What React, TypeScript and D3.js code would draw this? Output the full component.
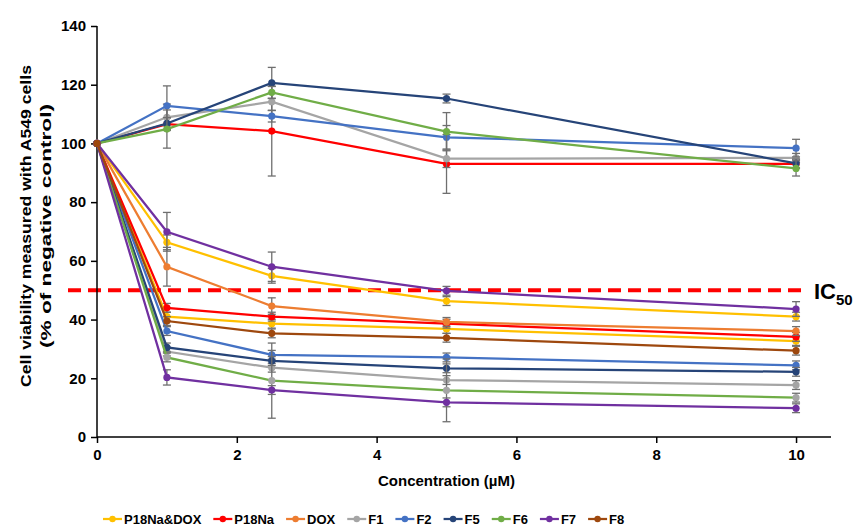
import React, { useEffect, useRef } from "react";
import * as d3 from "d3";

// concentration points (µM)
const concentrations = [0, 1, 2.5, 5, 10];
const xTicks = [0, 2, 4, 6, 8, 10];
const yTicks = [0, 20, 40, 60, 80, 100, 120, 140];

const legendNames = ["P18Na&DOX", "P18Na", "DOX", "F1", "F2", "F5", "F6", "F7", "F8"];
const legendColors = ["#FFC000", "#FF0000", "#ED7D31", "#A5A5A5", "#4472C4", "#264478", "#70AD47", "#7030A0", "#9E480E"];

// upper group (stays near 100 %)
const p18naHigh = [100, 106.6, 104.2, 93, 93];
const p18naHighErr = [0, 2, 15.3, 10, 1.5];
const f1High = [100, 108.9, 114.2, 94.8, 95.1];
const f1HighErr = [0, 4.5, 3, 3, 1.5];
const f2High = [100, 112.8, 109.3, 102.1, 98.4];
const f2HighErr = [0, 6.8, 2, 4, 3];
const f5High = [100, 106.8, 120.6, 115.3, 93.2];
const f5HighErr = [0, 2, 5.3, 1.5, 1.5];
const f6High = [100, 104.9, 117.4, 104, 91.5];
const f6HighErr = [0, 6.5, 2, 6.5, 2.6];

// lower group (cytotoxic)
const p18naDoxA = [100, 66.3, 54.9, 46.3, 41];
const p18naDoxAErr = [0, 2.5, 2.5, 1.5, 1.5];
const p18naDoxB = [100, 41, 38.6, 36.8, 32.7];
const p18naDoxBErr = [0, 1.5, 1.5, 1.5, 1.5];
const p18naLow = [100, 44, 41, 38.6, 34.1];
const p18naLowErr = [0, 1.5, 1.5, 1.5, 1.5];
const doxLow = [100, 58, 44.6, 39.2, 36.1];
const doxLowErr = [0, 6.6, 2.8, 1.5, 1.5];
const f1Low = [100, 29.1, 23.6, 19.4, 17.7];
const f1LowErr = [0, 1.5, 1.5, 1.5, 1.5];
const f2Low = [100, 36.1, 28, 27.1, 24.4];
const f2LowErr = [0, 1.5, 1.5, 1.5, 1.5];
const f5Low = [100, 30.5, 25.9, 23.4, 22.2];
const f5LowErr = [0, 1.5, 1.5, 1.5, 1.5];
const f6Low = [100, 27.1, 19.2, 15.9, 13.4];
const f6LowErr = [0, 1.5, 12.8, 10.7, 1.5];
const f7A = [100, 69.9, 58, 49.8, 43.6];
const f7AErr = [0, 6.6, 5, 1.5, 2.5];
const f7B = [100, 20.3, 16, 11.8, 9.8];
const f7BErr = [0, 2.6, 1.5, 1.5, 1.5];
const f8Low = [100, 39.5, 35.3, 33.8, 29.4];
const f8LowErr = [0, 1.5, 1.5, 1.5, 1.5];

const ic50 = 50;

const colorOf = (name: string) => legendColors[legendNames.indexOf(name)];

const lines = [
  { name: "P18Na&DOX", values: p18naDoxA, errors: p18naDoxAErr },
  { name: "P18Na&DOX", values: p18naDoxB, errors: p18naDoxBErr },
  { name: "P18Na", values: p18naHigh, errors: p18naHighErr },
  { name: "P18Na", values: p18naLow, errors: p18naLowErr },
  { name: "DOX", values: doxLow, errors: doxLowErr },
  { name: "F1", values: f1High, errors: f1HighErr },
  { name: "F1", values: f1Low, errors: f1LowErr },
  { name: "F2", values: f2High, errors: f2HighErr },
  { name: "F2", values: f2Low, errors: f2LowErr },
  { name: "F5", values: f5High, errors: f5HighErr },
  { name: "F5", values: f5Low, errors: f5LowErr },
  { name: "F6", values: f6High, errors: f6HighErr },
  { name: "F6", values: f6Low, errors: f6LowErr, marker: "#A5A5A5" },
  { name: "F7", values: f7A, errors: f7AErr },
  { name: "F7", values: f7B, errors: f7BErr },
  { name: "F8", values: f8Low, errors: f8LowErr },
];

const W = 861;
const H = 527;
const FONT = "'Liberation Sans', Arial, sans-serif";

const App = () => {
  const ref = useRef<SVGSVGElement>(null);

  useEffect(() => {
    const svg = d3.select(ref.current);
    svg.selectAll("*").remove();

    const x = d3.scaleLinear().domain([0, 10.5]).range([97, 831]);
    const y = d3.scaleLinear().domain([0, 140]).range([437, 26]);

    // IC50 reference line
    svg.append("line")
      .attr("x1", 68).attr("x2", 806)
      .attr("y1", y(ic50)).attr("y2", y(ic50))
      .attr("stroke", "#FF0000").attr("stroke-width", 4)
      .attr("stroke-dasharray", "13 7");

    const ic = svg.append("text")
      .attr("x", 814).attr("y", y(ic50) + 9)
      .attr("font-family", FONT).attr("font-weight", "bold")
      .attr("font-size", 22).attr("fill", "#000");
    ic.append("tspan").text("IC");
    ic.append("tspan").attr("font-size", 15).attr("dy", 6).text("50");

    // axes
    const yAxis = svg.append("g").attr("transform", `translate(${x(0)},0)`)
      .call(d3.axisLeft(y).tickValues(yTicks).tickSize(6).tickPadding(5).tickSizeOuter(0));
    const xAxis = svg.append("g").attr("transform", `translate(0,${y(0)})`)
      .call(d3.axisBottom(x).tickValues(xTicks).tickSize(6).tickPadding(6).tickSizeOuter(0));
    [xAxis, yAxis].forEach(g => {
      g.selectAll("path, line").attr("stroke", "#000").attr("stroke-width", 1.5);
      g.selectAll("text").attr("font-family", FONT).attr("font-weight", "bold")
        .attr("font-size", 15).attr("fill", "#000");
    });
    xAxis.select("path").attr("d", `M${x(0)},0H${x(10.5)}`);
    yAxis.select("path").attr("d", `M0,${y(140)}V${y(0)}`);

    svg.append("text")
      .attr("x", (x(0) + x(10)) / 2).attr("y", 486)
      .attr("text-anchor", "middle")
      .attr("font-family", FONT).attr("font-weight", "bold").attr("font-size", 15)
      .text("Concentration (µM)");

    const yTitle = svg.append("text")
      .attr("transform", "translate(0,226) rotate(-90)")
      .attr("text-anchor", "middle")
      .attr("font-family", FONT).attr("font-weight", "bold").attr("font-size", 15.5);
    yTitle.append("tspan").attr("x", 0).attr("y", 31)
      .attr("textLength", 322).attr("lengthAdjust", "spacingAndGlyphs")
      .text("Cell viability measured with A549 cells");
    yTitle.append("tspan").attr("x", 0).attr("y", 51)
      .attr("textLength", 244).attr("lengthAdjust", "spacingAndGlyphs")
      .text("(% of negative control)");

    // series
    const line = d3.line<number>()
      .x((_, i) => x(concentrations[i]))
      .y(d => y(d));

    lines.forEach(s => {
      const g = svg.append("g");
      const color = colorOf(s.name);
      const eb = g.append("g").attr("stroke", "#6F6F6F").attr("stroke-width", 1.3);
      s.values.forEach((v, i) => {
        const e = s.errors[i];
        if (!e) return;
        const cx = x(concentrations[i]);
        eb.append("line").attr("x1", cx).attr("x2", cx).attr("y1", y(v - e)).attr("y2", y(v + e));
        eb.append("line").attr("x1", cx - 4).attr("x2", cx + 4).attr("y1", y(v - e)).attr("y2", y(v - e));
        eb.append("line").attr("x1", cx - 4).attr("x2", cx + 4).attr("y1", y(v + e)).attr("y2", y(v + e));
      });
      g.append("path").attr("d", line(s.values)).attr("fill", "none")
        .attr("stroke", color).attr("stroke-width", 2.25);
      g.selectAll("circle").data(s.values).join("circle")
        .attr("cx", (_, i) => x(concentrations[i]))
        .attr("cy", d => y(d))
        .attr("r", 3.6)
        .attr("fill", s.marker || color);
    });

    // legend
    const legend = svg.append("g").attr("transform", "translate(0,519)");
    let lx = 103;
    legendNames.forEach((name, i) => {
      const item = legend.append("g");
      item.append("line").attr("x1", lx).attr("x2", lx + 19).attr("y1", 0).attr("y2", 0)
        .attr("stroke", legendColors[i]).attr("stroke-width", 2.25);
      item.append("circle").attr("cx", lx + 9.5).attr("cy", 0).attr("r", 3.2).attr("fill", legendColors[i]);
      const t = item.append("text").attr("x", lx + 21).attr("y", 5)
        .attr("font-family", FONT).attr("font-weight", "bold").attr("font-size", 13)
        .text(name);
      const w = (t.node() as SVGTextElement).getComputedTextLength();
      lx += 21 + w + 12;
    });
  }, []);

  return (
    <svg ref={ref} width={W} height={H}
      style={{ position: "absolute", left: 0, top: 0, background: "#fff" }} />
  );
};

export default App;
